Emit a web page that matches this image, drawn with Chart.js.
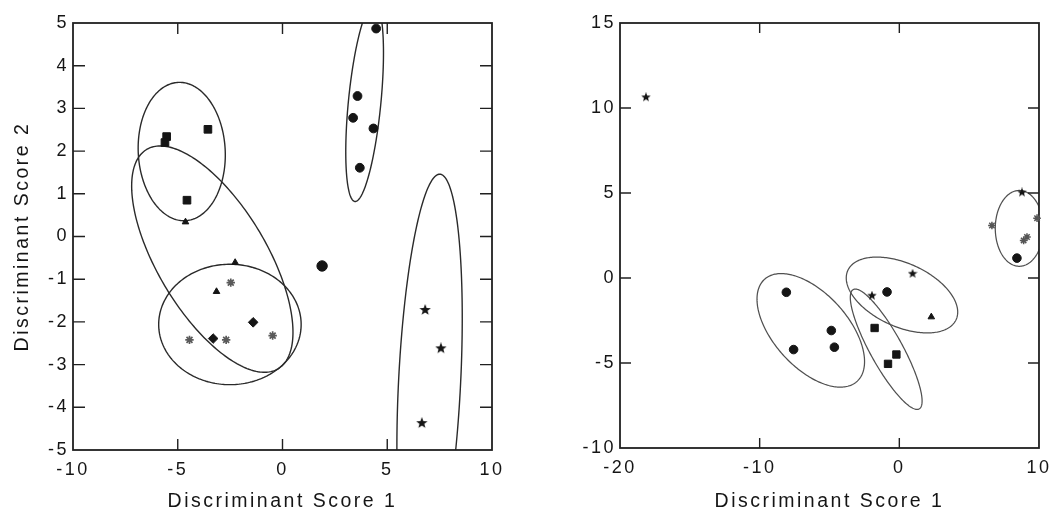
<!DOCTYPE html>
<html><head><meta charset="utf-8">
<script src="https://cdn.jsdelivr.net/npm/chart.js@4.4.1/dist/chart.umd.min.js"></script>
<style>
html,body{margin:0;padding:0;background:#fff;width:1058px;height:512px;overflow:hidden}
#c1{position:absolute;left:0;top:0}
#c2{position:absolute;left:530px;top:0}
</style></head><body>
<canvas id="c1" width="525" height="512"></canvas>
<canvas id="c2" width="528" height="512"></canvas>
<script>
// ---------- LEFT PANEL DATA ----------
const leftXTicks = [-10, -5, 0, 5, 10];
const leftYTicks = [-5, -4, -3, -2, -1, 0, 1, 2, 3, 4, 5];
const leftXTitle = 'Discriminant Score 1';
const leftYTitle = 'Discriminant Score 2';

const squaresLX = [-5.53, -5.61, -3.56, -4.56];
const squaresLY = [2.34, 2.20, 2.51, 0.85];
const trianglesLX = [-4.63, -2.26, -3.15];
const trianglesLY = [0.34, -0.61, -1.29];
const asterisksLX = [-2.47, -4.44, -2.69, -0.47];
const asterisksLY = [-1.08, -2.42, -2.42, -2.32];
const diamondsLX = [-3.31, -1.40];
const diamondsLY = [-2.39, -2.01];
const outlierLX = [1.89];
const outlierLY = [-0.69];
const circlesLX = [4.47, 3.58, 3.37, 4.34, 3.69];
const circlesLY = [4.87, 3.29, 2.78, 2.53, 1.61];
const starsLX = [6.81, 7.56, 6.65];
const starsLY = [-1.72, -2.62, -4.37];

// ellipses: centre, half-extent in x and y, correlation
const ellLCx = [-4.81, -3.35, -2.51, 3.92, 7.02];
const ellLCy = [1.99, -0.53, -2.06, 3.14, -3.42];
const ellLSx = [2.08, 3.85, 3.40, 0.90, 1.56];
const ellLSy = [1.62, 2.65, 1.41, 2.32, 4.88];
const ellLR  = [-0.05, -0.646, 0.0, 0.50, 0.31];

// ---------- RIGHT PANEL DATA ----------
const rightXTicks = [-20, -10, 0, 10];
const rightYTicks = [-10, -5, 0, 5, 10, 15];
const rightXTitle = 'Discriminant Score 1';

const circlesRX = [-8.09, -7.57, -4.87, -4.65, -0.88, 8.42];
const circlesRY = [-0.84, -4.21, -3.09, -4.07, -0.82, 1.17];
const squaresRX = [-1.77, -0.21, -0.81];
const squaresRY = [-2.94, -4.50, -5.05];
const starsRX = [-18.14, -1.96, 0.95, 8.78];
const starsRY = [10.63, -1.04, 0.25, 5.03];
const trianglesRX = [2.29];
const trianglesRY = [-2.29];
const asterisksRX = [6.63, 9.86, 9.14, 8.90];
const asterisksRY = [3.09, 3.52, 2.41, 2.21];

const ellRCx = [-6.34, 0.19, -0.94, 8.59];
const ellRCy = [-3.08, -1.00, -4.19, 2.92];
const ellRSx = [3.85, 3.99, 2.57, 1.72];
const ellRSy = [3.34, 2.23, 3.54, 2.23];
const ellRR  = [-0.55, -0.45, -0.86, 0.0];

// ---------- helpers ----------
const FONT = "'Liberation Sans', Arial, Helvetica, sans-serif";
const INK = '#151515';
function pts(xs, ys) { return xs.map((v, i) => ({x: v, y: ys[i]})); }
function makeStar(size, color) {
  const c = document.createElement('canvas');
  c.width = size; c.height = size;
  const g = c.getContext('2d');
  const cx = size / 2, cy = size / 2, R = size / 2, r = R * 0.42;
  g.beginPath();
  for (let k = 0; k < 10; k++) {
    const a = -Math.PI / 2 + k * Math.PI / 5;
    const rr = k % 2 === 0 ? R : r;
    g.lineTo(cx + rr * Math.cos(a), cy + rr * Math.sin(a));
  }
  g.closePath(); g.fillStyle = color; g.fill();
  return c;
}
const starBig = makeStar(12, INK);
const starSmall = makeStar(10, INK);

const framePlugin = {
  id: 'frame',
  beforeDraw(chart) { chart.ctx.letterSpacing = '2.5px'; },
  beforeDatasetsDraw(chart) {
    const o = chart.options.plugins.frame;
    const {ctx, chartArea: a, scales: {x, y}} = chart;
    ctx.save();
    ctx.letterSpacing = '0px';
    ctx.beginPath();
    ctx.rect(a.left, a.top, a.right - a.left, a.bottom - a.top);
    ctx.clip();
    ctx.strokeStyle = o.ellColor; ctx.lineWidth = o.ellWidth;
    for (let i = 0; i < o.cx.length; i++) {
      const q = Math.sqrt(1 - o.r[i] * o.r[i]);
      ctx.beginPath();
      const N = 240;
      for (let k = 0; k <= N; k++) {
        const t = 2 * Math.PI * k / N;
        const vx = o.cx[i] + o.sx[i] * Math.cos(t);
        const vy = o.cy[i] + o.sy[i] * (o.r[i] * Math.cos(t) + q * Math.sin(t));
        const px = x.getPixelForValue(vx), py = y.getPixelForValue(vy);
        if (k === 0) ctx.moveTo(px, py); else ctx.lineTo(px, py);
      }
      ctx.closePath(); ctx.stroke();
    }
    ctx.restore();
    ctx.save();
    ctx.strokeStyle = '#202020'; ctx.lineWidth = 1.8;
    ctx.strokeRect(a.left, a.top, a.right - a.left, a.bottom - a.top);
    ctx.lineWidth = 1.4;
    ctx.beginPath();
    x.ticks.forEach(t => {
      if (t.value <= x.min || t.value >= x.max) return;
      const px = x.getPixelForValue(t.value);
      ctx.moveTo(px, a.bottom); ctx.lineTo(px, a.bottom - o.tickX);
      ctx.moveTo(px, a.top); ctx.lineTo(px, a.top + o.tickX);
    });
    y.ticks.forEach(t => {
      if (t.value <= y.min || t.value >= y.max) return;
      const py = y.getPixelForValue(t.value);
      ctx.moveTo(a.left, py); ctx.lineTo(a.left + o.tickY, py);
      ctx.moveTo(a.right, py); ctx.lineTo(a.right - o.tickY, py);
    });
    ctx.stroke();
    ctx.restore();
  },
  afterDraw(chart) { chart.ctx.letterSpacing = '0px'; }
};

function axis(min, max, ticksArr, title, fitSize, horizontal, titlePad) {
  return {
    type: 'linear', min: min, max: max,
    afterBuildTicks: s => { s.ticks = ticksArr.map(v => ({value: v})); },
    afterFit: s => { if (horizontal) s.height = fitSize; else s.width = fitSize; },
    grid: {display: false, drawTicks: false},
    border: {display: false},
    ticks: {color: INK, font: {family: FONT, size: 18}, padding: horizontal ? 9 : 4,
            maxRotation: 0, autoSkip: false, callback: v => String(v)},
    title: {display: !!title, text: title || '', color: INK,
            font: {family: FONT, size: 19.5, lineHeight: 1.05}, padding: titlePad}
  };
}

function ds(label, xs, ys, style, radius, color, extra) {
  return Object.assign({
    label: label, data: pts(xs, ys), pointStyle: style, pointRadius: radius,
    pointBackgroundColor: color, pointBorderColor: color, pointBorderWidth: 1,
    showLine: false, clip: false
  }, extra || {});
}

const commonOpts = {
  responsive: false, animation: false, devicePixelRatio: 1,
  plugins: {legend: {display: false}, tooltip: {enabled: false}}
};

new Chart(document.getElementById('c1'), {
  type: 'scatter',
  data: {datasets: [
    ds('squares', squaresLX, squaresLY, 'rect', 5.4, INK),
    ds('triangles', trianglesLX, trianglesLY, 'triangle', 3.8, INK),
    ds('asterisks', asterisksLX, asterisksLY, 'star', 4.2, '#5a5a5a', {pointBorderWidth: 1.7}),
    ds('diamonds', diamondsLX, diamondsLY, 'rectRot', 4.8, INK),
    ds('outlier', outlierLX, outlierLY, 'circle', 5.2, INK),
    ds('circles', circlesLX, circlesLY, 'circle', 4.4, INK),
    ds('stars', starsLX, starsLY, starBig, 6, INK)
  ]},
  options: Object.assign({}, commonOpts, {
    layout: {padding: {top: 23, right: 33, left: 0, bottom: 0}},
    scales: {
      x: axis(-10, 10, leftXTicks, leftXTitle, 62, true, {top: 0, bottom: 0}),
      y: axis(-5, 5, leftYTicks, leftYTitle, 73, false, {top: 12, bottom: 0})
    },
    plugins: Object.assign({}, commonOpts.plugins, {
      frame: {cx: ellLCx, cy: ellLCy, sx: ellLSx, sy: ellLSy, r: ellLR,
              ellColor: '#2a2a2a', ellWidth: 1.4, tickX: 11, tickY: 12}
    })
  }),
  plugins: [framePlugin]
});

new Chart(document.getElementById('c2'), {
  type: 'scatter',
  data: {datasets: [
    ds('circles', circlesRX, circlesRY, 'circle', 4.3, INK),
    ds('squares', squaresRX, squaresRY, 'rect', 5.2, INK),
    ds('stars', starsRX, starsRY, starSmall, 5, INK),
    ds('triangles', trianglesRX, trianglesRY, 'triangle', 3.8, INK),
    ds('asterisks', asterisksRX, asterisksRY, 'star', 3.8, '#555', {pointBorderWidth: 1.5})
  ]},
  options: Object.assign({}, commonOpts, {
    layout: {padding: {top: 23, right: 16, left: 0, bottom: 0}},
    scales: {
      x: axis(-20, 10, rightXTicks, rightXTitle, 64, true, {top: 0, bottom: 0}),
      y: axis(-10, 15, rightYTicks, null, 90, false, {top: 0, bottom: 0})
    },
    plugins: Object.assign({}, commonOpts.plugins, {
      frame: {cx: ellRCx, cy: ellRCy, sx: ellRSx, sy: ellRSy, r: ellRR,
              ellColor: '#505050', ellWidth: 1.25, tickX: 10, tickY: 11}
    })
  }),
  plugins: [framePlugin]
});
</script>
</body></html>
